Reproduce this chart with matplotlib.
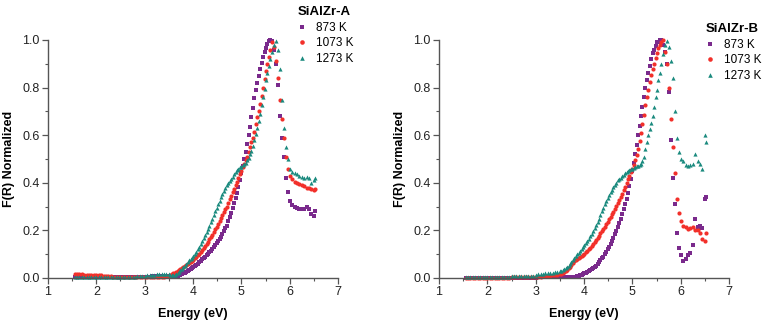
import numpy as np
import matplotlib
matplotlib.use("Agg")
import matplotlib.pyplot as plt
from matplotlib.ticker import MultipleLocator

plt.rcParams['font.family'] = ['Liberation Sans', 'DejaVu Sans']

# photon energy grid (eV), shared by all spectra
energy = [
    1.55, 1.60, 1.65, 1.70, 1.75, 1.80, 1.85, 1.90, 1.95, 2.00,
    2.05, 2.10, 2.15, 2.20, 2.25, 2.30, 2.35, 2.40, 2.45, 2.50,
    2.55, 2.60, 2.65, 2.70, 2.75, 2.80, 2.85, 2.90, 2.95, 3.00,
    3.05, 3.10, 3.15, 3.20, 3.25, 3.30, 3.35, 3.40, 3.45, 3.50,
    3.53, 3.56, 3.59, 3.62, 3.65, 3.68, 3.71, 3.74, 3.77, 3.80,
    3.83, 3.86, 3.89, 3.92, 3.95, 3.98, 4.01, 4.04, 4.07, 4.10,
    4.13, 4.16, 4.19, 4.22, 4.25, 4.28, 4.31, 4.34, 4.37, 4.40,
    4.43, 4.46, 4.49, 4.52, 4.55, 4.58, 4.61, 4.64, 4.67, 4.70,
    4.73, 4.76, 4.79, 4.82, 4.85, 4.88, 4.91, 4.94, 4.97,
    5.00, 5.03, 5.06, 5.09, 5.12, 5.15, 5.18, 5.21, 5.24, 5.27,
    5.30, 5.33, 5.36, 5.39, 5.42, 5.45, 5.48, 5.51, 5.54, 5.57, 5.60,
    5.64, 5.68, 5.72, 5.76, 5.80, 5.84, 5.88, 5.92, 5.96, 6.00,
    6.05, 6.10, 6.15, 6.20, 6.25, 6.30, 6.35, 6.40, 6.45, 6.50, 6.53,
]

# ---- SiAlZr-A ----
a_873 = [0.004] * 30 + [
    0.005, 0.006, 0.007, 0.008, 0.009, 0.010, 0.010, 0.010, 0.009, 0.008,
    0.008, 0.008, 0.008, 0.008, 0.009, 0.010, 0.011, 0.014, 0.017, 0.020,
    0.023, 0.026, 0.029, 0.033, 0.037, 0.042, 0.046, 0.051, 0.055, 0.060,
    0.066, 0.072, 0.078, 0.084, 0.090, 0.096, 0.102, 0.108, 0.114, 0.120,
    0.129, 0.138, 0.147, 0.156, 0.165, 0.174, 0.184, 0.196, 0.208, 0.220,
    0.238, 0.256, 0.274, 0.294, 0.315, 0.336, 0.358, 0.382, 0.410,
    0.440, 0.470, 0.500, 0.530, 0.565, 0.600, 0.635, 0.675, 0.715, 0.755,
    0.790, 0.820, 0.850, 0.880, 0.905, 0.930, 0.950, 0.965, 0.985, 0.995, 1.000,
    0.995, 0.960, 0.900, 0.810, 0.680, 0.590, 0.510, 0.420, 0.360, 0.325,
    0.305, 0.300, 0.295, 0.290, 0.290, 0.290, 0.300, 0.290, 0.270, 0.260, 0.280,
]
a_1073 = [
    0.016, 0.016, 0.015, 0.015, 0.014, 0.014, 0.013, 0.013, 0.012, 0.012,
    0.011, 0.011, 0.010, 0.009, 0.008, 0.007, 0.006, 0.005, 0.005, 0.004,
] + [0.003] * 16 + [
    0.004, 0.005, 0.007, 0.009,
    0.011, 0.015, 0.019, 0.022, 0.025, 0.028, 0.032, 0.036, 0.040, 0.045,
    0.050, 0.054, 0.059, 0.063, 0.068, 0.072, 0.077, 0.083, 0.089, 0.095,
    0.102, 0.110, 0.117, 0.126, 0.135, 0.144, 0.153, 0.162, 0.171, 0.180,
    0.192, 0.204, 0.216, 0.228, 0.240, 0.252, 0.264, 0.276, 0.288, 0.300,
    0.315, 0.330, 0.345, 0.360, 0.375, 0.390, 0.405, 0.420, 0.435,
    0.450, 0.465, 0.480, 0.495, 0.510, 0.530, 0.550, 0.570, 0.590, 0.615,
    0.645, 0.675, 0.700, 0.730, 0.765, 0.800, 0.835, 0.870, 0.900, 0.930, 0.960,
    0.990, 0.970, 0.910, 0.840, 0.750, 0.670, 0.590, 0.510, 0.460, 0.430,
    0.415, 0.405, 0.400, 0.393, 0.390, 0.385, 0.380, 0.378, 0.372, 0.368, 0.375,
]
a_1273 = [0.005] * 25 + [
    0.006, 0.007, 0.008, 0.009, 0.010, 0.011, 0.012, 0.013, 0.014, 0.015,
    0.016, 0.016, 0.016, 0.015, 0.015,
    0.014, 0.013, 0.012, 0.013, 0.016, 0.020, 0.027, 0.033, 0.039, 0.045,
    0.052, 0.060, 0.067, 0.074, 0.080, 0.086, 0.093, 0.101, 0.110, 0.120,
    0.131, 0.143, 0.156, 0.168, 0.180, 0.192, 0.205, 0.220, 0.235, 0.250,
    0.265, 0.280, 0.295, 0.310, 0.325, 0.340, 0.354, 0.366, 0.378, 0.390,
    0.400, 0.408, 0.417, 0.426, 0.435, 0.444, 0.452, 0.459, 0.465,
    0.468, 0.473, 0.478, 0.485, 0.495, 0.505, 0.520, 0.535, 0.555, 0.580,
    0.605, 0.630, 0.660, 0.690, 0.725, 0.760, 0.795, 0.830, 0.860, 0.890, 0.920,
    0.950, 0.980, 0.995, 0.960, 0.880, 0.750, 0.630, 0.550, 0.500, 0.460,
    0.445, 0.440, 0.435, 0.430, 0.425, 0.422, 0.425, 0.420, 0.400, 0.410, 0.420,
]

# ---- SiAlZr-B ----
b_873 = [0.002] * 30 + [0.003] * 10 + [
    0.003, 0.003, 0.003, 0.003, 0.003, 0.003, 0.004, 0.004, 0.004, 0.005,
    0.006, 0.007, 0.009, 0.011, 0.013, 0.016, 0.019, 0.022, 0.025, 0.028,
    0.032, 0.036, 0.040, 0.046, 0.052, 0.059, 0.066, 0.074, 0.082, 0.090,
    0.100, 0.110, 0.121, 0.132, 0.144, 0.156, 0.169, 0.183, 0.198, 0.215,
    0.232, 0.250, 0.268, 0.288, 0.310, 0.333, 0.358, 0.385, 0.415,
    0.450, 0.485, 0.520, 0.560, 0.600, 0.640, 0.680, 0.720, 0.760, 0.800,
    0.830, 0.860, 0.890, 0.920, 0.945, 0.960, 0.975, 0.990, 0.990, 1.000, 1.000,
    0.980, 0.950, 0.900, 0.780, 0.580, 0.420, 0.310, 0.190, 0.125, 0.095,
    0.070, 0.080, 0.095, 0.105, 0.140, 0.250, 0.215, 0.220, 0.210, 0.330, 0.340,
]
b_1073 = [0.002] * 19 + [0.004] * 11 + [
    0.005, 0.006, 0.007, 0.008, 0.009, 0.010, 0.011, 0.012, 0.014, 0.015,
    0.017, 0.020, 0.024, 0.029, 0.035, 0.041, 0.048, 0.056, 0.063, 0.070,
    0.075, 0.080, 0.084, 0.088, 0.093, 0.097, 0.102, 0.108, 0.114, 0.120,
    0.127, 0.134, 0.142, 0.151, 0.160, 0.169, 0.178, 0.187, 0.196, 0.205,
    0.215, 0.226, 0.237, 0.247, 0.258, 0.268, 0.279, 0.291, 0.303, 0.315,
    0.328, 0.341, 0.355, 0.369, 0.384, 0.399, 0.414, 0.429, 0.445,
    0.460, 0.475, 0.495, 0.515, 0.540, 0.575, 0.610, 0.645, 0.685, 0.725,
    0.760, 0.790, 0.825, 0.855, 0.880, 0.900, 0.925, 0.945, 0.965, 0.980, 0.990,
    1.000, 0.950, 0.900, 0.800, 0.670, 0.550, 0.440, 0.330, 0.275, 0.240,
    0.220, 0.215, 0.205, 0.210, 0.215, 0.200, 0.200, 0.190, 0.165, 0.155, 0.190,
]
b_1273 = [0.004] * 9 + [0.006] * 10 + [0.009] * 10 + [
    0.013, 0.015, 0.016, 0.018, 0.019, 0.020, 0.021, 0.023, 0.025, 0.027, 0.029,
    0.031, 0.034, 0.037, 0.040, 0.045, 0.052, 0.060, 0.068, 0.077, 0.085,
    0.092, 0.100, 0.107, 0.115, 0.122, 0.130, 0.138, 0.147, 0.156, 0.165,
    0.175, 0.186, 0.197, 0.209, 0.222, 0.236, 0.250, 0.265, 0.280, 0.295,
    0.309, 0.323, 0.337, 0.349, 0.360, 0.371, 0.382, 0.392, 0.401, 0.410,
    0.416, 0.422, 0.428, 0.434, 0.440, 0.445, 0.449, 0.453, 0.457,
    0.460, 0.463, 0.466, 0.469, 0.472, 0.475, 0.480, 0.490, 0.510, 0.540,
    0.570, 0.600, 0.625, 0.650, 0.680, 0.720, 0.760, 0.790, 0.830, 0.860, 0.900,
    0.940, 0.980, 0.995, 0.970, 0.910, 0.840, 0.700, 0.590, 0.530, 0.500,
    0.490, 0.475, 0.470, 0.475, 0.480, 0.520, 0.490, 0.480, 0.460, 0.600, 0.570,
]

labels = ['873 K', '1073 K', '1273 K']
colors = ['#7a2a8c', '#f2302a', '#1a8a7e']
markers = ['s', 'o', '^']

fig = plt.figure(figsize=(7.71, 3.26), dpi=100)
ax1 = fig.add_axes([48 / 771, 48 / 326, 290 / 771, 238 / 326])
ax2 = fig.add_axes([439 / 771, 48 / 326, 290 / 771, 238 / 326])

panels = [
    (ax1, [a_873, a_1073, a_1273], 'SiAlZr-A', (289 / 771, 1 + 2 / 326)),
    (ax2, [b_873, b_1073, b_1273], 'SiAlZr-B', (697 / 771, 1 - 15 / 326)),
]

for ax, series, title, anchor in panels:
    for vals, lab, c, m in zip(series, labels, colors, markers):
        ax.plot(energy, vals, linestyle='none', marker=m, markersize=3.0,
                markeredgewidth=0, color=c, label=lab, clip_on=False)

    ax.set_xlim(1, 7)
    ax.set_ylim(0, 1.0)
    ax.xaxis.set_major_locator(MultipleLocator(1))
    ax.xaxis.set_minor_locator(MultipleLocator(0.5))
    ax.yaxis.set_major_locator(MultipleLocator(0.2))
    ax.yaxis.set_minor_locator(MultipleLocator(0.1))
    ax.yaxis.set_major_formatter(plt.FormatStrFormatter('%.1f'))
    for side in ['top', 'right']:
        ax.spines[side].set_visible(False)
    for side in ['left', 'bottom']:
        ax.spines[side].set_color('#555555')
        ax.spines[side].set_linewidth(1.0)
    ax.tick_params(which='major', direction='out', length=4, width=0.9,
                   color='#555555', labelsize=9, labelcolor='#222222', pad=2)
    ax.tick_params(which='minor', direction='out', length=2.5, width=0.8,
                   color='#555555')
    ax.set_xlabel('Energy (eV)', fontsize=9, fontweight='bold', labelpad=7)
    ax.set_ylabel('F(R) Normalized', fontsize=9, fontweight='bold', labelpad=5)

    leg = ax.legend(title=title, loc='upper left', bbox_to_anchor=anchor,
                    bbox_transform=fig.transFigure, frameon=False,
                    fontsize=8.5, title_fontsize=9.5, alignment='left',
                    handlelength=0.8, handletextpad=0.8, labelspacing=0.3,
                    borderpad=0.2, markerscale=1.1)
    leg.get_title().set_fontweight('bold')

fig.savefig('out.png', dpi=100)
